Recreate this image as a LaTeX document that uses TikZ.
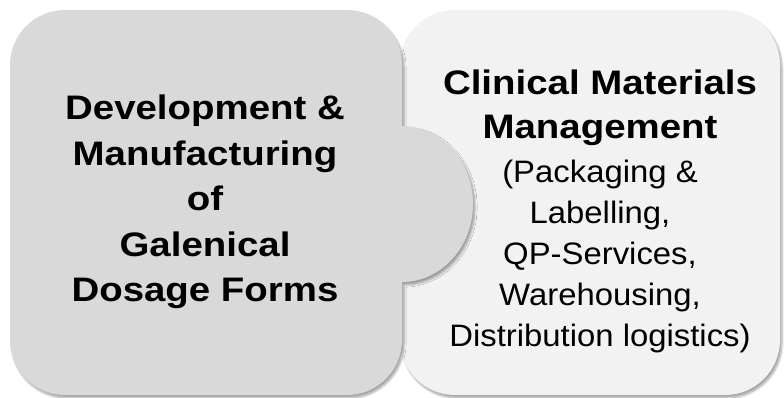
\documentclass[tikz,border=0pt]{standalone}
\usepackage{fontspec}
\setmainfont{Liberation Sans}
\usepackage{tikz}
\usetikzlibrary{positioning,shadows,shadows.blur}
\usepackage{xcolor}
\definecolor{leftgrey}{HTML}{D9D9D9}
\definecolor{rightgrey}{HTML}{F2F2F2}

\begin{document}
\begin{tikzpicture}[x=1pt, y=1pt,
    boxshadow/.style={blur shadow={shadow xshift=2pt, shadow yshift=-3pt, shadow blur steps=6, shadow opacity=35}},
    headtext/.style={align=center, inner sep=0pt, xscale=1.13, transform shape, font=\fontsize{34}{45.5}\selectfont\bfseries},
    listtext/.style={align=center, inner sep=0pt, xscale=1.06, transform shape, font=\fontsize{31}{41}\selectfont}]
    \useasboundingbox (0,0) rectangle (784,398);

    % Right box (drawn first, it sits behind)
    \fill[rightgrey, rounded corners=55pt, boxshadow] (400,3) rectangle (780,388);

    % Left box with its round tab
    \fill[leftgrey, boxshadow] (65,388) -- (347,388) arc[start angle=90, end angle=0, radius=55]
        -- (402,272) arc[start angle=90, end angle=-90, x radius=71, y radius=78]
        -- (402,58) arc[start angle=0, end angle=-90, radius=55]
        -- (65,3) arc[start angle=-90, end angle=-180, radius=55]
        -- (10,333) arc[start angle=180, end angle=90, radius=55] -- cycle;

    % Texts
    \node[headtext, anchor=north] (devtext) at (205,303)
        {Development \&\\Manufacturing\\of\\Galenical\\Dosage Forms};
    \node[headtext, anchor=north, font=\fontsize{34}{43.5}\selectfont\bfseries] (cmmtitle) at (600,328)
        {Clinical Materials\\Management};
    \node[listtext, below=14pt of cmmtitle] (cmmlist)
        {(Packaging \&\\Labelling,\\QP-Services,\\Warehousing,\\Distribution logistics)};
\end{tikzpicture}
\end{document}
